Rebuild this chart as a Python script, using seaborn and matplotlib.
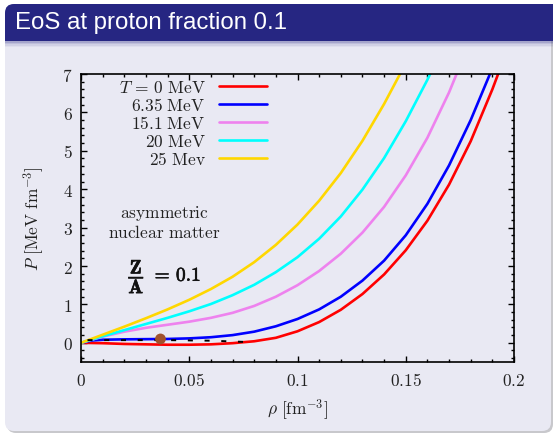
import numpy as np
import pandas as pd
import matplotlib
matplotlib.use("Agg")
import matplotlib.pyplot as plt
import matplotlib.patheffects as pe
import seaborn as sns
from matplotlib.patches import FancyBboxPatch, Rectangle
from matplotlib.ticker import MultipleLocator

# ---------------- data ----------------
rho_T0 = [0, 0.01, 0.02, 0.03, 0.04, 0.05, 0.06, 0.07, 0.08, 0.09, 0.10, 0.11, 0.12, 0.13, 0.14, 0.15, 0.16, 0.17, 0.18, 0.19, 0.20]
P_T0 = [0, -0.01, -0.03, -0.04, -0.05, -0.05, -0.04, -0.01, 0.04, 0.13, 0.30, 0.54, 0.86, 1.27, 1.78, 2.41, 3.18, 4.12, 5.25, 6.60, 8.1]

rho_T635 = [0, 0.005, 0.01, 0.02, 0.03, 0.04, 0.05, 0.06, 0.07, 0.08, 0.09, 0.10, 0.11, 0.12, 0.13, 0.14, 0.15, 0.16, 0.17, 0.18, 0.19]
P_T635 = [0, 0.06, 0.08, 0.09, 0.095, 0.10, 0.115, 0.145, 0.20, 0.29, 0.43, 0.62, 0.87, 1.20, 1.62, 2.14, 2.80, 3.62, 4.62, 5.80, 7.15]

rho_T151 = [0, 0.01, 0.02, 0.03, 0.04, 0.05, 0.06, 0.07, 0.08, 0.09, 0.10, 0.11, 0.12, 0.13, 0.14, 0.15, 0.16, 0.17, 0.18]
P_T151 = [0, 0.16, 0.29, 0.39, 0.47, 0.55, 0.65, 0.78, 0.96, 1.20, 1.50, 1.87, 2.32, 2.87, 3.54, 4.36, 5.34, 6.52, 7.9]

rho_T20 = [0, 0.01, 0.02, 0.03, 0.04, 0.05, 0.06, 0.07, 0.08, 0.09, 0.10, 0.11, 0.12, 0.13, 0.14, 0.15, 0.16, 0.17]
P_T20 = [0, 0.17, 0.33, 0.49, 0.65, 0.82, 1.01, 1.24, 1.51, 1.84, 2.23, 2.71, 3.29, 3.99, 4.81, 5.77, 6.85, 8.05]

rho_T25 = [0, 0.01, 0.02, 0.03, 0.04, 0.05, 0.06, 0.07, 0.08, 0.09, 0.10, 0.11, 0.12, 0.13, 0.14, 0.15]
P_T25 = [0, 0.21, 0.42, 0.64, 0.87, 1.12, 1.40, 1.72, 2.10, 2.55, 3.08, 3.70, 4.42, 5.26, 6.22, 7.28]

rho_dash = [0.003, 0.02, 0.04, 0.06, 0.077]
P_dash = [0.07, 0.07, 0.07, 0.055, 0.02]

rho_point = [0.0367]
P_point = [0.10]

labels = [r"$T\,=\,0\ \mathrm{MeV}$", r"$6.35\ \mathrm{MeV}$", r"$15.1\ \mathrm{MeV}$",
          r"$20\ \mathrm{MeV}$", r"$25\ \mathrm{Mev}$"]
colors = ["#ff0000", "#0000ff", "#ee82ee", "#00ffff", "#ffd700"]
curves = [(rho_T0, P_T0), (rho_T635, P_T635), (rho_T151, P_T151),
          (rho_T20, P_T20), (rho_T25, P_T25)]

xticks = [0, 0.05, 0.1, 0.15, 0.2]
xticklabels = ["0", "0.05", "0.1", "0.15", "0.2"]
yticks = [0, 1, 2, 3, 4, 5, 6, 7]

# ---------------- style ----------------
sns.set_style("ticks")
plt.rcParams["mathtext.fontset"] = "cm"
plt.rcParams["font.family"] = ["DejaVu Serif"]

W, H = 553, 435
fig = plt.figure(figsize=(W / 100, H / 100), dpi=100)
fig.patch.set_facecolor("white")

# slide background (pixel coordinates)
bg = fig.add_axes([0, 0, 1, 1], zorder=-5)
bg.set_xlim(0, W)
bg.set_ylim(H, 0)
bg.axis("off")
block_col = "#e9e9f3"
bar_col = "#262682"
bg.add_patch(FancyBboxPatch((7, 8), 546, 426, boxstyle="round,pad=0,rounding_size=9",
                            fc="#c8c8cc", ec="none"))
bg.add_patch(FancyBboxPatch((5, 5), 546, 427, boxstyle="round,pad=0,rounding_size=9",
                            fc=block_col, ec="none"))
bg.add_patch(FancyBboxPatch((5, 5), 560, 37, boxstyle="round,pad=0,rounding_size=9",
                            fc=bar_col, ec="none"))
bg.add_patch(Rectangle((5, 25), 560, 17, fc=bar_col, ec="none"))
for i, a in enumerate([0.35, 0.22, 0.12, 0.05]):
    bg.add_patch(Rectangle((5, 42 + 1.5 * i), 560, 1.5, fc=bar_col, ec="none", alpha=a))
bg.text(15, 23.5, "EoS at proton fraction 0.1", color="white", fontsize=17.3,
        family=["Liberation Sans", "DejaVu Sans"], va="center", ha="left")

# ---------------- main axes ----------------
ax = fig.add_axes([81 / W, 1 - 363 / H, 433 / W, 288 / H])
ax.set_facecolor("none")

for (x, y), c, lab in zip(curves, colors, labels):
    sns.lineplot(x=x, y=y, color=c, lw=1.9, label=lab, ax=ax, sort=False,
                 estimator=None)
sns.lineplot(x=rho_dash, y=P_dash, color="black", lw=1.4, ax=ax, sort=False,
             estimator=None, linestyle=(0, (2.6, 6.0)), legend=False)
sns.scatterplot(x=rho_point, y=P_point, color="#a0522d", s=60, edgecolor="none",
                ax=ax, zorder=6, legend=False)

ax.set_xlim(0, 0.2)
ax.set_ylim(-0.5, 7)
ax.set_xticks(xticks)
ax.set_xticklabels([f"${t}$" for t in xticklabels])
ax.set_yticks(yticks)
ax.set_yticklabels([f"${t}$" for t in yticks])
ax.xaxis.set_minor_locator(MultipleLocator(0.01))
ax.yaxis.set_minor_locator(MultipleLocator(0.2))
ax.tick_params(which="both", direction="in", top=True, right=True, width=1.0,
               color="black", labelsize=12.5, labelcolor="#222222")
ax.tick_params(which="major", length=4.5)
ax.tick_params(which="minor", length=2.3)
ax.tick_params(axis="x", pad=7)
ax.tick_params(axis="y", pad=6)
for s in ax.spines.values():
    s.set_visible(True)
    s.set_color("black")
    s.set_linewidth(1.2)

ax.set_xlabel(r"$\rho\ [\mathrm{fm}^{-3}]$", fontsize=12.5, color="#222222", labelpad=5)
ax.set_ylabel(r"$P\ [\mathrm{MeV\ fm}^{-3}]$", fontsize=12.5, color="#222222", labelpad=12)

leg = ax.legend(loc="upper right", bbox_to_anchor=(0.43, 0.982), markerfirst=False,
                frameon=False, handlelength=2.8, handletextpad=0.75, labelspacing=0.06,
                borderpad=0, borderaxespad=0, fontsize=12.5)
for t in leg.get_texts():
    t.set_color("#222222")

ax.text(0.0387, 3.40, r"$\mathrm{asymmetric}$", ha="center", va="center", fontsize=12.5, color="#222222")
ax.text(0.0387, 2.88, r"$\mathrm{nuclear\ matter}$", ha="center", va="center", fontsize=12.5, color="#222222")
ax.text(0.0387, 1.74, r"$\dfrac{\mathbf{Z}}{\mathbf{A}}\,\, =\, \mathbf{0.1}$", ha="center", va="center",
        fontsize=14, color="#111111",
        path_effects=[pe.withStroke(linewidth=0.45, foreground="#111111")])

fig.savefig("out.png", dpi=100, facecolor=fig.get_facecolor())
